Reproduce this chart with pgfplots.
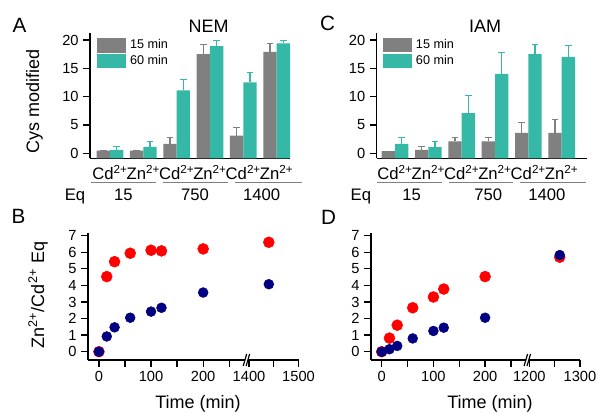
\documentclass[border=0pt]{standalone}
\usepackage{fontspec}
\setmainfont{Liberation Sans}
\usepackage{pgfplots}
\pgfplotsset{compat=1.18}

\definecolor{gry}{HTML}{808080}
\definecolor{tea}{HTML}{36B8A6}
\definecolor{rd}{HTML}{FF0000}
\definecolor{nvy}{HTML}{000080}

\pgfplotsset{
  panel/.style={
    scale only axis,
    axis lines=left,
    axis line style={-, line width=1pt},
    tick align=outside,
    major tick length=5pt, minor tick length=5pt,
    tick style={line width=1pt, black},
    ticklabel style={font=\fontsize{11}{13}\selectfont},
    /pgf/number format/assume math mode=true,
    clip=false,
  },
  barpanel/.style={
    panel,
    height=94pt,
    ybar, bar width=0.4,
    y coord trafo/.code={\pgfmathparse{##1+0.88}},
    ymin=-0.88, ymax=21.24,
    ytick={0,5,10,15,20}, yticklabels={0,5,10,15,20},
    xtick={1,2,3,4,5,6},
    xticklabels={Cd\textsuperscript{2+}, Zn\textsuperscript{2+}, Cd\textsuperscript{2+}, Zn\textsuperscript{2+}, Cd\textsuperscript{2+}, Zn\textsuperscript{2+}},
    x tick style={draw=none},
    xticklabel style={anchor=base, yshift=-10.8pt, font=\fontsize{12.5}{14}\selectfont},
    legend style={draw=none, fill=none, anchor=north west, inner sep=0pt, outer sep=0pt,
      font=\fontsize{9.5}{11}\selectfont, row sep=1pt, column sep=3pt,
      nodes={inner sep=0pt, anchor=west}},
    legend cell align=left,
  },
  errgry/.style={error bars/.cd, y dir=plus, y explicit,
    error bar style={gry, line width=1pt}, error mark options={rotate=90, mark size=2.6pt},
    /pgfplots/.cd},
  errtea/.style={error bars/.cd, y dir=plus, y explicit,
    error bar style={tea, line width=1pt}, error mark options={rotate=90, mark size=2.6pt},
    /pgfplots/.cd},
  scatpanel/.style={
    panel,
    height=95pt,
    ymin=-0.5, ymax=7.14,
    ytick={0,1,2,3,4,5,6,7},
  },
}

\begin{document}
\begin{tikzpicture}
\path[use as bounding box] (0pt,0pt) rectangle (450.75pt,310.5pt);

% ---- A: NEM
\begin{axis}[barpanel, at={(67.5pt,191.8pt)}, anchor=south west,
    width=150pt, xmin=0.4, xmax=6.4,
    legend style={at={(0.035,0.958)}}]
\addplot[fill=gry, draw=none, bar shift=-0.2,
    legend image code/.code={\fill[gry] (0pt,-5.4pt) rectangle (21.75pt,5.4pt);}, errgry]
  coordinates {(1,0.47) +- (0,0) (2,0.47) +- (0,0) (3,1.65) +- (0,1.15)
               (4,17.5) +- (0,1.8) (5,3.1) +- (0,1.5) (6,17.9) +- (0,1.6)};
\addplot[fill=tea, draw=none, bar shift=0.2,
    legend image code/.code={\fill[tea] (0pt,-5.4pt) rectangle (21.75pt,5.4pt);}, errtea]
  coordinates {(1,0.6) +- (0,0.7) (2,1.12) +- (0,0.95) (3,11.1) +- (0,2.0)
               (4,18.9) +- (0,1.0) (5,12.5) +- (0,1.8) (6,19.4) +- (0,0.6)};
\legend{15 min, 60 min}
\draw[gry, line width=1.1pt] (rel axis cs:0.0035,-0.1915) -- (rel axis cs:0.33,-0.1915);
\draw[gry, line width=1.1pt] (rel axis cs:0.3665,-0.1915) -- (rel axis cs:0.6915,-0.1915);
\draw[gry, line width=1.1pt] (rel axis cs:0.725,-0.1915) -- (rel axis cs:1.0585,-0.1915);
\begin{scope}[every node/.style={anchor=base, font=\fontsize{12.5}{14}\selectfont}]
\node at (rel axis cs:-0.075,-0.34) {Eq};
\node at (rel axis cs:0.1665,-0.34) {15};
\node at (rel axis cs:0.525,-0.34) {750};
\node at (rel axis cs:0.8585,-0.34) {1400};
\end{scope}
\end{axis}

% ---- C: IAM
\begin{axis}[barpanel, at={(282.5pt,191.8pt)}, anchor=south west,
    width=157.5pt, xmin=0.45, xmax=6.75,
    legend style={at={(0.03,0.96)}}]
\addplot[fill=gry, draw=none, bar shift=-0.2,
    legend image code/.code={\fill[gry] (0pt,-5.4pt) rectangle (21.75pt,5.4pt);}, errgry]
  coordinates {(1,0.4) +- (0,0) (2,0.6) +- (0,0.7) (3,2.1) +- (0,0.8)
               (4,2.1) +- (0,0.8) (5,3.6) +- (0,1.8) (6,3.6) +- (0,2.4)};
\addplot[fill=tea, draw=none, bar shift=0.2,
    legend image code/.code={\fill[tea] (0pt,-5.4pt) rectangle (21.75pt,5.4pt);}, errtea]
  coordinates {(1,1.65) +- (0,1.25) (2,1.1) +- (0,1.0) (3,7.1) +- (0,3.1)
               (4,14.0) +- (0,3.8) (5,17.5) +- (0,1.8) (6,17.0) +- (0,2.1)};
\legend{15 min, 60 min}
\draw[gry, line width=1.1pt] (rel axis cs:0.003,-0.1915) -- (rel axis cs:0.3095,-0.1915);
\draw[gry, line width=1.1pt] (rel axis cs:0.3457,-0.1915) -- (rel axis cs:0.6505,-0.1915);
\draw[gry, line width=1.1pt] (rel axis cs:0.6824,-0.1915) -- (rel axis cs:0.9967,-0.1915);
\begin{scope}[every node/.style={anchor=base, font=\fontsize{12.5}{14}\selectfont}]
\node at (rel axis cs:-0.075,-0.34) {Eq};
\node at (rel axis cs:0.1667,-0.34) {15};
\node at (rel axis cs:0.531,-0.34) {750};
\node at (rel axis cs:0.811,-0.34) {1400};
\end{scope}
\end{axis}

% ---- B
\begin{axis}[scatpanel, at={(66pt,40.5pt)}, anchor=south west,
    width=157.9pt,
    x coord trafo/.code={\pgfmathparse{#1>1000 ? (#1-1400)*0.95+288 : #1}},
    xmin=-21, xmax=1500,
    xtick={0,100,200,1400,1500}, xticklabels={0,100,200,1400,1500},
    minor xtick={50,150,250,1450}]
\addplot[only marks, mark=*, mark size=4.1pt, mark options={fill=rd, draw=rd}]
  coordinates {(0,0) (15,4.53) (30,5.43) (60,5.94) (100,6.12) (120,6.08) (200,6.2) (1440,6.6)};
\addplot[only marks, mark=*, mark size=3.7pt, mark options={fill=nvy, draw=nvy}]
  coordinates {(0,0) (15,0.92) (30,1.47) (60,2.05) (100,2.42) (120,2.65) (200,3.57) (1440,4.07)};
\coordinate (brk) at (axis cs:283,-0.5);
\fill[white] ([shift={(-2.4pt,-4.5pt)}]brk) -- ([shift={(0.2pt,4.5pt)}]brk)
  -- ([shift={(2.4pt,4.5pt)}]brk) -- ([shift={(-0.2pt,-4.5pt)}]brk) -- cycle;
\draw[line width=0.9pt] ([shift={(-2.4pt,-4.5pt)}]brk) -- ([shift={(0.2pt,4.5pt)}]brk);
\draw[line width=0.9pt] ([shift={(-0.2pt,-4.5pt)}]brk) -- ([shift={(2.4pt,4.5pt)}]brk);
\end{axis}

% ---- D
\begin{axis}[scatpanel, at={(278.25pt,40.5pt)}, anchor=south west,
    width=156.75pt,
    x coord trafo/.code={\pgfmathparse{#1>1000 ? (#1-1200)*0.98+285.5 : #1}},
    xmin=-20.7, xmax=1300,
    xtick={0,100,200,1200,1300}, xticklabels={0,100,200,1200,1300},
    minor xtick={50,150,250,1250}]
\addplot[only marks, mark=*, mark size=4.1pt, mark options={fill=rd, draw=rd}]
  coordinates {(0,0) (15,0.82) (30,1.6) (60,2.65) (100,3.3) (120,3.78) (200,4.53) (1260,5.7)};
\addplot[only marks, mark=*, mark size=3.7pt, mark options={fill=nvy, draw=nvy}]
  coordinates {(0,0) (15,0.15) (30,0.35) (60,0.8) (100,1.25) (120,1.45) (200,2.05) (1260,5.83)};
\coordinate (brk) at (axis cs:281.6,-0.5);
\fill[white] ([shift={(-2.4pt,-4.5pt)}]brk) -- ([shift={(0.2pt,4.5pt)}]brk)
  -- ([shift={(2.4pt,4.5pt)}]brk) -- ([shift={(-0.2pt,-4.5pt)}]brk) -- cycle;
\draw[line width=0.9pt] ([shift={(-2.4pt,-4.5pt)}]brk) -- ([shift={(0.2pt,4.5pt)}]brk);
\draw[line width=0.9pt] ([shift={(-0.2pt,-4.5pt)}]brk) -- ([shift={(2.4pt,4.5pt)}]brk);
\end{axis}

% ---- panel letters, titles, labels
\begin{scope}[every node/.style={font=\fontsize{15.5}{18}\selectfont}]
\node at (14.6pt,291.4pt) {A};
\node at (245.6pt,292.9pt) {C};
\node at (13.9pt,148.1pt) {B};
\node at (246.4pt,147.4pt) {D};
\end{scope}
\begin{scope}[every node/.style={font=\fontsize{13.5}{16}\selectfont}]
\node at (156.4pt,291pt) {NEM};
\node at (363.75pt,291pt) {IAM};
\end{scope}
\begin{scope}[every node/.style={font=\fontsize{13.5}{16}\selectfont}]
\node[rotate=90] at (25.9pt,234.75pt) {Cys modified};
\node[rotate=90] at (28.5pt,89.25pt) {Zn\textsuperscript{2+}/Cd\textsuperscript{2+} Eq};
\node at (148.5pt,7.5pt) {Time (min)};
\node at (367.5pt,7.5pt) {Time (min)};
\end{scope}
\end{tikzpicture}
\end{document}
